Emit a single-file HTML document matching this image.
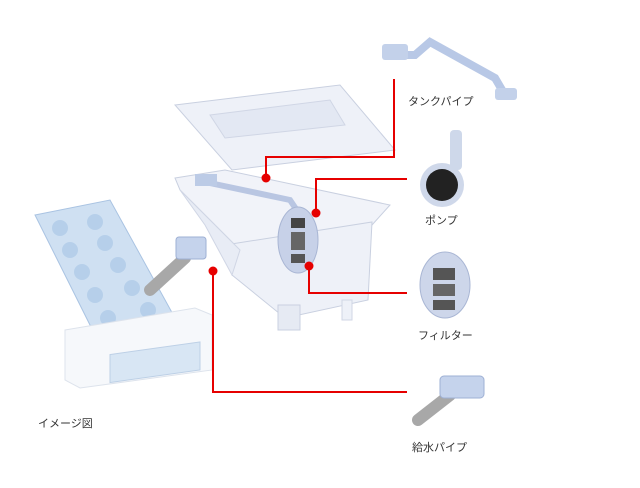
<!DOCTYPE html>
<html><head><meta charset="utf-8"><style>
html,body{margin:0;padding:0;background:#fff;width:640px;height:488px;overflow:hidden}
svg text{font-family:"Liberation Sans","Noto Sans CJK JP",sans-serif;font-size:11px;fill:#333}
</style></head><body>
<svg width="640" height="488" viewBox="0 0 640 488" xmlns="http://www.w3.org/2000/svg">
<!-- tank lid -->
<polygon points="175,105 340,85 395,150 232,170" fill="#eef1f8" stroke="#c9d0e0"/>
<polygon points="210,115 330,100 345,125 225,138" fill="#e3e8f3" stroke="#d0d6e5"/>
<!-- tank body -->
<polygon points="175,178 225,170 390,205 372,225 240,250 180,190" fill="#f1f3f9" stroke="#c9d0e0"/>
<polygon points="225,245 372,222 368,300 285,318 232,275" fill="#eef1f8" stroke="#c9d0e0"/>
<polygon points="180,190 240,250 232,275 205,225" fill="#e8ecf5" stroke="#d0d6e5"/>
<rect x="278" y="305" width="22" height="25" fill="#e6eaf3" stroke="#c9d0e0"/>
<rect x="342" y="300" width="10" height="20" fill="#eef1f8" stroke="#d0d6e5"/>
<!-- tank pipe inside -->
<path d="M205,182 L290,200 L300,215" stroke="#b9c6e2" stroke-width="6" fill="none"/>
<rect x="195" y="174" width="22" height="12" fill="#bccbe6"/>
<!-- pump/filter in tank -->
<ellipse cx="298" cy="240" rx="20" ry="33" fill="#c7d1e8" stroke="#a9b6d4"/>
<rect x="291" y="218" width="14" height="10" fill="#444"/>
<rect x="291" y="232" width="14" height="18" fill="#666"/>
<rect x="291" y="254" width="14" height="9" fill="#555"/>
<!-- ice tray -->
<polygon points="35,215 110,200 175,318 95,335" fill="#cfe0f2" stroke="#a9c3e2"/>
<g fill="#b6cfea">
<circle cx="60" cy="228" r="8"/><circle cx="95" cy="222" r="8"/>
<circle cx="70" cy="250" r="8"/><circle cx="105" cy="243" r="8"/>
<circle cx="82" cy="272" r="8"/><circle cx="118" cy="265" r="8"/>
<circle cx="95" cy="295" r="8"/><circle cx="132" cy="288" r="8"/>
<circle cx="108" cy="318" r="8"/><circle cx="148" cy="310" r="8"/>
</g>
<polygon points="65,330 195,308 212,315 212,370 80,388 65,380" fill="#f6f8fb" stroke="#dde3ec"/>
<rect x="110" y="348" width="90" height="28" fill="#d8e6f4" stroke="#bdd0e6" transform="skewY(-8) translate(0,22)"/>
<!-- supply pipe -->
<path d="M150,290 L185,258" stroke="#a8a8a8" stroke-width="12" stroke-linecap="round"/>
<rect x="176" y="237" width="30" height="22" rx="3" fill="#c5d3ec" stroke="#9eb0d4"/>
<!-- right parts -->
<path d="M390,55 L415,55 L430,42 L495,78 L505,95" stroke="#b8c8e6" stroke-width="8" fill="none" stroke-linecap="round"/>
<rect x="382" y="44" width="26" height="16" rx="3" fill="#c3d1ea"/>
<rect x="495" y="88" width="22" height="12" rx="3" fill="#c3d1ea"/>
<circle cx="442" cy="185" r="22" fill="#cfd8ea"/><circle cx="442" cy="185" r="16" fill="#222"/>
<rect x="450" y="130" width="12" height="40" rx="4" fill="#ced8ea"/>
<ellipse cx="445" cy="285" rx="25" ry="33" fill="#cdd6ea" stroke="#a9b6d4"/>
<rect x="433" y="268" width="22" height="12" fill="#555"/>
<rect x="433" y="284" width="22" height="12" fill="#666"/>
<rect x="433" y="300" width="22" height="10" fill="#555"/>
<path d="M418,420 L450,395" stroke="#a8a8a8" stroke-width="12" stroke-linecap="round"/>
<rect x="440" y="376" width="44" height="22" rx="4" fill="#c5d3ec" stroke="#9eb0d4"/>
<!-- red leaders -->
<g stroke="#e60000" stroke-width="2" fill="none">
<polyline points="266,178 266,157 394,157 394,79"/>
<polyline points="316,213 316,179 407,179"/>
<polyline points="309,266 309,293 407,293"/>
<polyline points="213,271 213,392 407,392"/>
</g>
<g fill="#e60000">
<circle cx="266" cy="178" r="4.5"/><circle cx="316" cy="213" r="4.5"/>
<circle cx="309" cy="266" r="4.5"/><circle cx="213" cy="271" r="4.5"/>
</g>
<text x="408" y="105">タンクパイプ</text>
<text x="425" y="224">ポンプ</text>
<text x="418" y="339">フィルター</text>
<text x="412" y="451">給水パイプ</text>
<text x="38" y="427">イメージ図</text>
</svg>
</body></html>
